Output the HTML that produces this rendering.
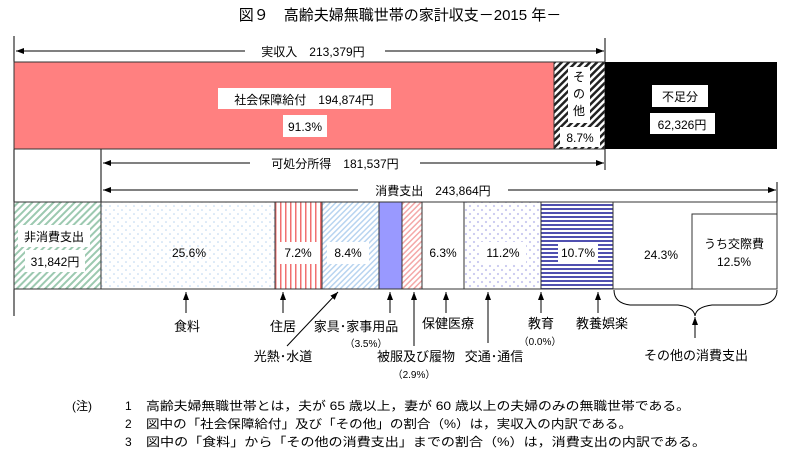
<!DOCTYPE html>
<html><head><meta charset="utf-8"><style>
body{margin:0;background:#fff}
svg text{font-family:"Liberation Sans","Noto Sans CJK JP",sans-serif;fill:#000}
</style></head><body>
<svg width="802" height="461" viewBox="0 0 802 461" xmlns="http://www.w3.org/2000/svg">
<defs>
<marker id="ah" markerWidth="8" markerHeight="6" refX="8" refY="3" orient="auto" markerUnits="userSpaceOnUse"><path d="M0,0 L8,3 L0,6z" fill="#000"/></marker>
<pattern id="pBW" width="5" height="5" patternUnits="userSpaceOnUse" patternTransform="rotate(45)"><rect width="5" height="5" fill="#fff"/><rect width="2.5" height="5" fill="#222"/></pattern>
<pattern id="pG" width="5" height="5" patternUnits="userSpaceOnUse" patternTransform="rotate(45)"><rect width="5" height="5" fill="#fff"/><rect width="2" height="5" fill="#9cc9b0"/></pattern>
<pattern id="pDot" width="8" height="8" patternUnits="userSpaceOnUse"><rect width="8" height="8" fill="#fff"/><circle cx="2" cy="2" r="0.8" fill="#b8d4f0"/><circle cx="6" cy="6" r="0.8" fill="#b8d4f0"/></pattern>
<pattern id="pRed" width="5" height="5" patternUnits="userSpaceOnUse"><rect width="5" height="5" fill="#fff"/><rect width="1.5" height="5" fill="#f07070"/></pattern>
<pattern id="pLB" width="4" height="4" patternUnits="userSpaceOnUse" patternTransform="rotate(45)"><rect width="4" height="4" fill="#fff"/><rect width="1.5" height="4" fill="#b8d4f0"/></pattern>
<pattern id="pPk" width="4" height="4" patternUnits="userSpaceOnUse" patternTransform="rotate(45)"><rect width="4" height="4" fill="#fff"/><rect width="1.5" height="4" fill="#f4a8a8"/></pattern>
<pattern id="pPu" width="8" height="8" patternUnits="userSpaceOnUse"><rect width="8" height="8" fill="#fff"/><circle cx="2" cy="2" r="1.1" fill="#c8c8f0"/><circle cx="6" cy="6" r="1.1" fill="#c8c8f0"/></pattern>
<pattern id="pBl" width="4" height="4" patternUnits="userSpaceOnUse"><rect width="4" height="4" fill="#fff"/><rect width="4" height="2" fill="#5050b0"/></pattern>
</defs>
<text x="400" y="20" font-size="15" text-anchor="middle">図９　高齢夫婦無職世帯の家計収支－2015 年－</text>

<g stroke="#000" stroke-width="1">
<line x1="14" y1="36" x2="14" y2="316"/>
<line x1="605" y1="38" x2="605" y2="170"/>
<line x1="101" y1="149" x2="101" y2="202"/>
<line x1="777" y1="182" x2="777" y2="202"/>
<line x1="245" y1="51" x2="16" y2="51" marker-end="url(#ah)"/>
<line x1="385" y1="51" x2="604" y2="51" marker-end="url(#ah)"/>
<line x1="250" y1="163" x2="103" y2="163" marker-end="url(#ah)"/>
<line x1="420" y1="163" x2="604" y2="163" marker-end="url(#ah)"/>
<line x1="358" y1="190" x2="103" y2="190" marker-end="url(#ah)"/>
<line x1="508" y1="190" x2="776" y2="190" marker-end="url(#ah)"/>
</g>
<text x="313" y="56" font-size="12" text-anchor="middle">実収入　213,379円</text>
<text x="335" y="168" font-size="12" text-anchor="middle">可処分所得　181,537円</text>
<text x="433" y="195" font-size="12" text-anchor="middle">消費支出　243,864円</text>

<rect x="14" y="62" width="540" height="87" fill="#ff8080" stroke="#333"/>
<rect x="554" y="62" width="51" height="87" fill="url(#pBW)" stroke="#333"/>
<rect x="605" y="62" width="172" height="87" fill="#000"/>
<rect x="218" y="88" width="173" height="21" fill="#fff"/>
<text x="304" y="104" font-size="12" text-anchor="middle">社会保障給付　194,874円</text>
<rect x="283" y="115" width="44" height="22" fill="#fff"/>
<text x="305" y="131" font-size="12" text-anchor="middle">91.3%</text>
<rect x="568" y="67" width="22" height="56" fill="#fff"/>
<text x="579" y="81" font-size="12" text-anchor="middle">そ</text>
<text x="579" y="98" font-size="12" text-anchor="middle">の</text>
<text x="579" y="115" font-size="12" text-anchor="middle">他</text>
<rect x="560" y="127" width="40" height="20" fill="#fff"/>
<text x="580" y="142" font-size="12" text-anchor="middle">8.7%</text>
<rect x="652" y="85" width="56" height="22" fill="#fff"/>
<text x="680" y="101" font-size="12" text-anchor="middle">不足分</text>
<rect x="650" y="113" width="65" height="21" fill="#fff"/>
<text x="682" y="129" font-size="12" text-anchor="middle">62,326円</text>

<g stroke="#333" stroke-width="1">
<rect x="14" y="202" width="87" height="87" fill="url(#pG)"/>
<rect x="101" y="202" width="174" height="87" fill="url(#pDot)"/>
<rect x="275" y="202" width="47" height="87" fill="url(#pRed)"/>
<rect x="322" y="202" width="57" height="87" fill="url(#pLB)"/>
<rect x="379" y="202" width="23" height="87" fill="#9999ff"/>
<rect x="402" y="202" width="20" height="87" fill="url(#pPk)"/>
<rect x="422" y="202" width="42" height="87" fill="#fff"/>
<rect x="464" y="202" width="77" height="87" fill="url(#pPu)"/>
<rect x="541" y="202" width="72" height="87" fill="url(#pBl)"/>
<rect x="613" y="202" width="164" height="87" fill="#fff"/>
<rect x="692" y="214" width="85" height="75" fill="#fff"/>
</g>
<rect x="18" y="225" width="72" height="22" fill="#fff"/>
<text x="54" y="241" font-size="12" text-anchor="middle">非消費支出</text>
<rect x="25" y="250" width="60" height="22" fill="#fff"/>
<text x="55" y="266" font-size="12" text-anchor="middle">31,842円</text>
<text x="189" y="257" font-size="12" text-anchor="middle">25.6%</text>
<rect x="279" y="242" width="38" height="22" fill="#fff"/>
<text x="298" y="257" font-size="12" text-anchor="middle">7.2%</text>
<rect x="327" y="242" width="42" height="22" fill="#fff"/>
<text x="348" y="257" font-size="12" text-anchor="middle">8.4%</text>
<text x="443" y="257" font-size="12" text-anchor="middle">6.3%</text>
<rect x="480" y="242" width="46" height="22" fill="#fff"/>
<text x="503" y="257" font-size="12" text-anchor="middle">11.2%</text>
<rect x="558" y="242" width="40" height="22" fill="#fff"/>
<text x="578" y="257" font-size="12" text-anchor="middle">10.7%</text>
<text x="661" y="259" font-size="12" text-anchor="middle">24.3%</text>
<text x="734" y="248" font-size="12" text-anchor="middle">うち交際費</text>
<text x="734" y="266" font-size="12" text-anchor="middle">12.5%</text>

<g stroke="#000" stroke-width="1">
<line x1="186" y1="313" x2="186" y2="292" marker-end="url(#ah)"/>
<line x1="283" y1="313" x2="283" y2="292" marker-end="url(#ah)"/>
<line x1="287" y1="346" x2="338" y2="292" marker-end="url(#ah)"/>
<line x1="390" y1="313" x2="390" y2="292" marker-end="url(#ah)"/>
<line x1="414" y1="346" x2="414" y2="292" marker-end="url(#ah)"/>
<line x1="446" y1="313" x2="446" y2="292" marker-end="url(#ah)"/>
<line x1="488" y1="343" x2="488" y2="292" marker-end="url(#ah)"/>
<line x1="541" y1="313" x2="541" y2="292" marker-end="url(#ah)"/>
<line x1="598" y1="313" x2="598" y2="292" marker-end="url(#ah)"/>
<line x1="695" y1="338" x2="695" y2="317" marker-end="url(#ah)"/>
</g>
<path d="M614,290 Q614,303 630,305 L678,305 Q694,307 695,316 Q696,307 712,305 L760,305 Q777,303 777,290" fill="none" stroke="#000"/>

<g font-size="13">
<text x="187" y="331" text-anchor="middle">食料</text>
<text x="283" y="331" text-anchor="middle">住居</text>
<text x="283" y="361" text-anchor="middle">光熱･水道</text>
<text x="356" y="331" text-anchor="middle">家具･家事用品</text>
<text x="366" y="347" text-anchor="middle" font-size="10">（3.5%）</text>
<text x="416" y="361" text-anchor="middle">被服及び履物</text>
<text x="414" y="378" text-anchor="middle" font-size="10">（2.9%）</text>
<text x="448" y="328" text-anchor="middle">保健医療</text>
<text x="494" y="361" text-anchor="middle">交通･通信</text>
<text x="541" y="328" text-anchor="middle">教育</text>
<text x="540" y="345" text-anchor="middle" font-size="10">（0.0%）</text>
<text x="602" y="328" text-anchor="middle">教養娯楽</text>
<text x="696" y="360" text-anchor="middle">その他の消費支出</text>
</g>
<g font-size="12">
<text x="72" y="410">(注)</text>
<text x="125" y="410">1</text><text x="146" y="410" textLength="544" lengthAdjust="spacingAndGlyphs">高齢夫婦無職世帯とは，夫が 65 歳以上，妻が 60 歳以上の夫婦のみの無職世帯である。</text>
<text x="125" y="428">2</text><text x="146" y="428" textLength="486" lengthAdjust="spacingAndGlyphs">図中の「社会保障給付」及び「その他」の割合（%）は，実収入の内訳である。</text>
<text x="125" y="446">3</text><text x="146" y="446" textLength="560" lengthAdjust="spacingAndGlyphs">図中の「食料」から「その他の消費支出」までの割合（%）は，消費支出の内訳である。</text>
</g>
</svg>
</body></html>
